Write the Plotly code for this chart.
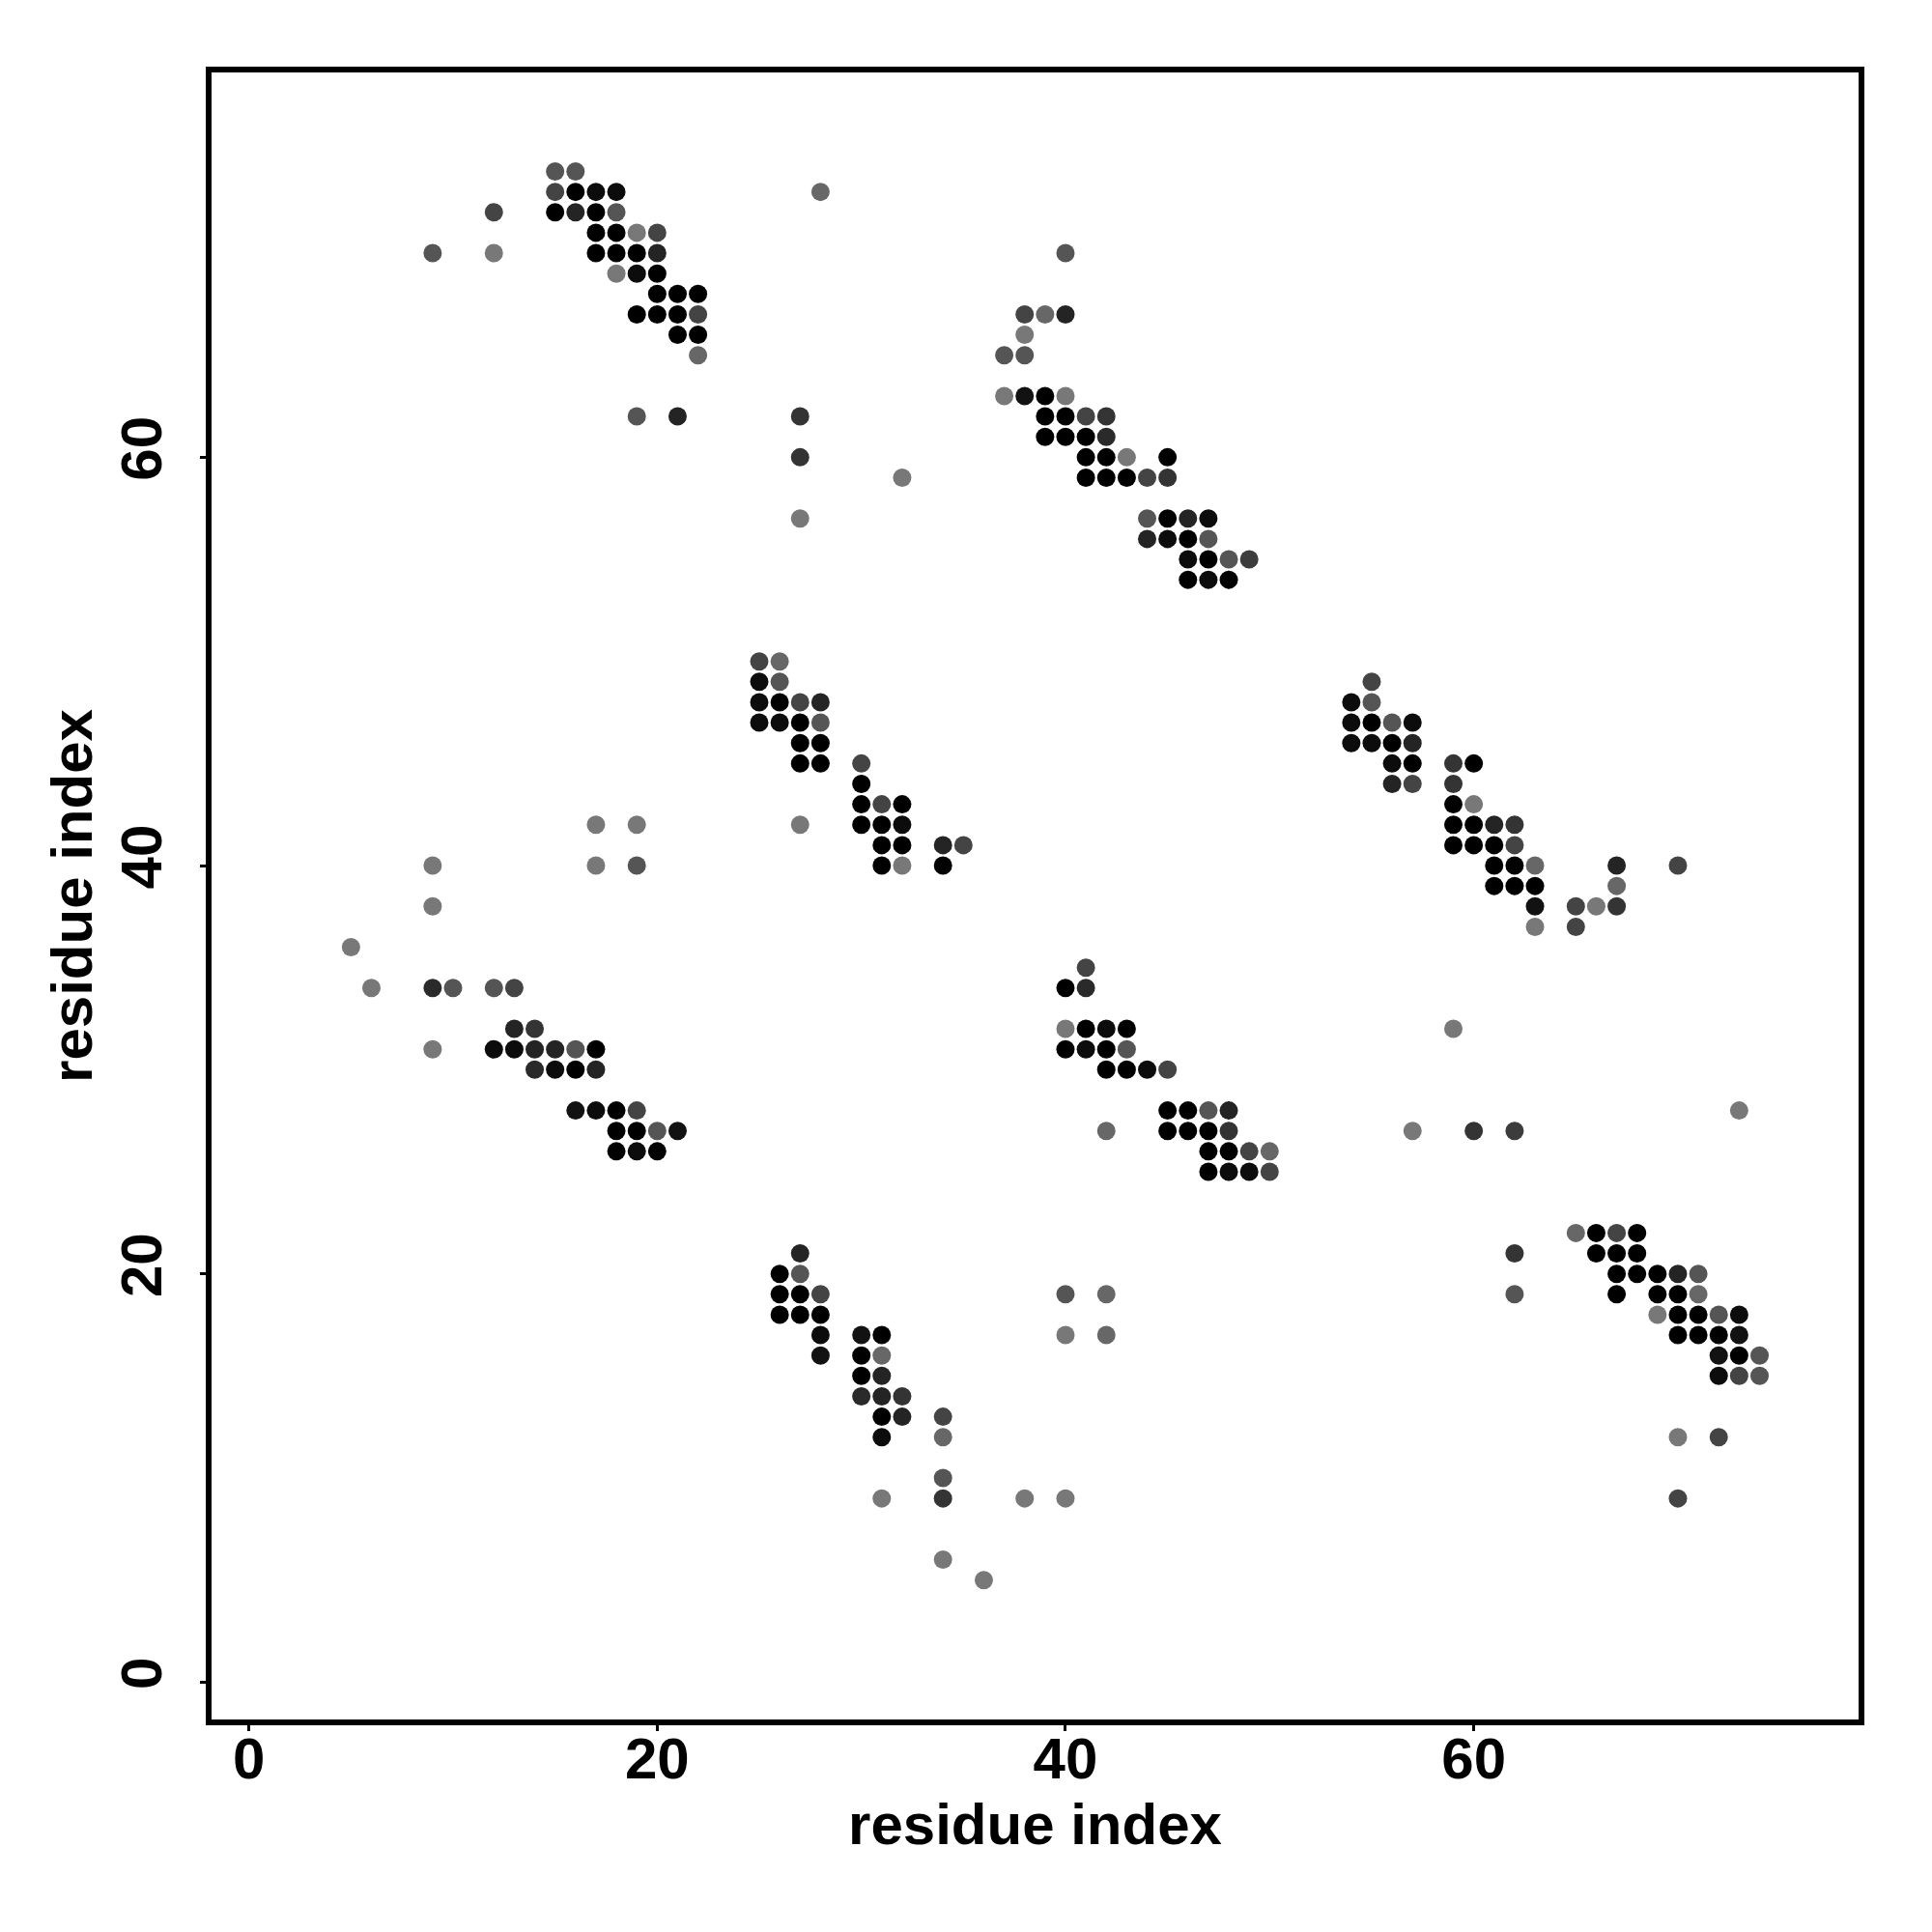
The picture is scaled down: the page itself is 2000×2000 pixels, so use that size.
import plotly.graph_objects as go

# contact map: residue i (x), residue j (y), contact score (0 = light gray, 1 = black)
res_i = [
    9, 12, 12, 15, 16, 15, 16, 17, 18, 15, 16, 17, 18, 17, 18, 19, 20, 17, 18, 19, 20,
    18, 19, 20, 20, 21, 22, 19, 20, 21, 22, 21, 22, 22, 19, 21, 28,
    27, 27, 27, 32,
    40, 38, 39, 40, 38, 37, 38, 37, 38, 39, 40, 39, 40, 41, 42, 39, 40, 41, 42,
    41, 42, 43, 45, 41, 42, 43, 44, 45, 44, 45, 46, 47, 44, 45, 46, 47,
    46, 47, 48, 49, 46, 47, 48,
    25, 26, 25, 26, 25, 26, 27, 28, 25, 26, 27, 28, 27, 28, 27, 28, 30, 30,
    30, 31, 32, 30, 31, 32, 27, 31, 32, 34, 35, 31, 32, 34,
    55, 54, 55, 54, 55, 56, 57, 54, 55, 56, 57, 56, 57, 59, 60, 56, 57, 59,
    59, 60, 59, 60, 61, 62, 59, 60, 61, 62, 61, 62, 63, 67, 70, 61, 62, 63, 67,
    63, 65, 66, 67, 63, 65,
    17, 19, 9, 17, 19, 9, 5, 6, 9, 10, 12, 13, 13, 14,
    9, 12, 13, 14, 15, 16, 17, 14, 15, 16, 17, 16, 17, 18, 19, 18, 19, 20, 21, 18, 19, 20,
    41, 40, 41, 40, 41, 42, 43, 40, 41, 42, 43, 42, 43, 44, 45,
    45, 46, 47, 48, 45, 46, 47, 48, 42, 47, 48, 49, 50, 47, 48, 49, 50,
    27, 26, 27, 26, 27, 28, 26, 27, 28, 28, 30, 31, 28, 30, 31, 30, 31,
    30, 31, 32, 31, 32, 34, 31, 34, 34, 31, 34, 38, 40, 34, 36, 40, 40, 42, 42,
    59, 73, 57, 60, 62, 65, 66, 67, 68, 62, 66, 67, 68, 67, 68, 69, 70, 71,
    62, 67, 69, 70, 71, 69, 70, 71, 72, 73, 70, 71, 72, 73, 72, 73, 74, 72, 73, 74,
    70, 72, 70,
]
res_j = [
    70, 72, 70, 74, 74, 73, 73, 73, 73, 72, 72, 72, 72, 71, 71, 71, 71, 70, 70, 70, 70,
    69, 69, 69, 68, 68, 68, 67, 67, 67, 67, 66, 66, 65, 62, 62, 73,
    62, 60, 57, 59,
    70, 67, 67, 67, 66, 65, 65, 63, 63, 63, 63, 62, 62, 62, 62, 61, 61, 61, 61,
    60, 60, 60, 60, 59, 59, 59, 59, 59, 57, 57, 57, 57, 56, 56, 56, 56,
    55, 55, 55, 55, 54, 54, 54,
    50, 50, 49, 49, 48, 48, 48, 48, 47, 47, 47, 47, 46, 46, 45, 45, 45, 44,
    43, 43, 43, 42, 42, 42, 42, 41, 41, 41, 41, 40, 40, 40,
    49, 48, 48, 47, 47, 47, 47, 46, 46, 46, 46, 45, 45, 45, 45, 44, 44, 44,
    43, 43, 42, 42, 42, 42, 41, 41, 41, 41, 40, 40, 40, 40, 40, 39, 39, 39, 39,
    38, 38, 38, 38, 37, 37,
    42, 42, 40, 40, 40, 38, 36, 34, 34, 34, 34, 34, 32, 32,
    31, 31, 31, 31, 31, 31, 31, 30, 30, 30, 30, 28, 28, 28, 28, 27, 27, 27, 27, 26, 26, 26,
    35, 34, 34, 32, 32, 32, 32, 31, 31, 31, 31, 30, 30, 30, 30,
    28, 28, 28, 28, 27, 27, 27, 27, 27, 26, 26, 26, 26, 25, 25, 25, 25,
    21, 20, 20, 19, 19, 19, 18, 18, 18, 17, 17, 17, 16, 16, 16, 15, 15,
    14, 14, 14, 13, 13, 13, 12, 12, 10, 9, 9, 9, 9, 6, 5, 19, 17, 19, 17,
    32, 28, 27, 27, 27, 22, 22, 22, 22, 21, 21, 21, 21, 20, 20, 20, 20, 20,
    19, 19, 19, 19, 19, 18, 18, 18, 18, 18, 17, 17, 17, 17, 16, 16, 16, 15, 15, 15,
    12, 12, 9,
]
score = [
    .29, .43, 0, .29, .29, .43, 1, .9, .9, 1, .7, 1, .29, 1, 1, 0, .43, 1, 1, 1, .7,
    0, .9, 1, 1, 1, 1, 1, 1, 1, .43, 1, 1, .14, .29, .7, .14,
    .57, .57, 0, 0,
    .29, .43, .14, .7, 0, .29, .29, 0, .85, 1, 0, 1, 1, .43, .57, 1, 1, 1, .65,
    1, 1, 0, 1, 1, 1, 1, .43, .57, .29, 1, .7, .9, .7, .9, 1, .29,
    .9, 1, .29, .5, 1, .9, 1,
    .43, .14, .9, .29, .9, 1, .43, .7, .9, .9, 1, .29, 1, 1, 1, 1, .43, 1,
    1, .43, 1, 1, 1, .9, 0, 1, 1, .7, .43, 1, 0, 1,
    .43, .9, .29, .9, 1, .29, .9, .9, .9, 1, .7, .9, 1, .57, 1, .7, .43, .57,
    1, 0, 1, 1, .7, .57, 1, 1, 1, .43, 1, 1, .14, .7, .43, 1, 1, 1, .14,
    .85, .43, 0, .57, 0, .43,
    0, 0, 0, 0, .29, 0, 0, 0, .65, .29, .29, .43, .7, .57,
    0, .9, .9, .7, .7, .29, 1, .65, .9, 1, .7, .85, .9, 1, .43, 1, 1, .29, .85, 1, .9, 1,
    .43, 1, .65, 0, 1, .9, 1, 1, .9, 1, .29, 1, 1, .9, .43,
    1, 1, .29, .7, 1, 1, 1, .57, .14, 1, 1, .43, .14, 1, .9, .9, .43,
    .7, 1, .29, 1, 1, .43, 1, 1, 1, .9, .85, 1, .85, 1, .14, 1, .7,
    .65, .7, .57, 1, .7, .43, .9, .14, .29, 0, .57, 0, 0, 0, 0, .29, 0, .14, .14,
    0, 0, 0, .57, .5, .14, 1, .43, 1, .57, 1, 1, 1, 1, 1, 1, .7, .29,
    .29, 1, 1, 1, .14, 0, 1, 1, .29, .9, 1, 1, 1, .85, .85, 1, .29, .9, .43, .29,
    0, .43, .43,
]

tick_vals = [0, 20, 40, 60]
tick_text = ["0", "20", "40", "60"]
axis_title = "residue index"

font_family = "Liberation Sans, Arial, Helvetica, sans-serif"

fig = go.Figure(
    go.Scatter(
        x=res_i,
        y=res_j,
        mode="markers",
        marker=dict(
            size=19,
            color=score,
            colorscale=[[0, "#787878"], [1, "#000000"]],
            cmin=0,
            cmax=1,
            line=dict(width=0),
            showscale=False,
        ),
        hoverinfo="x+y",
    )
)

axis_common = dict(
    range=[-1.83, 78.85],
    automargin=False,
    tickmode="array",
    tickvals=tick_vals,
    ticktext=tick_text,
    ticks="outside",
    ticklen=6,
    tickwidth=3,
    tickcolor="black",
    showline=True,
    linecolor="black",
    linewidth=6,
    mirror=True,
    showgrid=False,
    zeroline=False,
    tickfont=dict(family=font_family, size=60, color="black", weight="bold"),
    title=dict(text=axis_title,
               font=dict(family=font_family, size=60, color="black", weight="bold")),
)

fig.update_xaxes(**axis_common)
fig.update_yaxes(**axis_common)
fig.update_xaxes(title_standoff=16, ticklabelstandoff=-23)
fig.update_yaxes(tickangle=-90, title_standoff=0, ticklabelstandoff=16)

fig.update_layout(
    width=1992,
    height=1992,
    margin=dict(l=211, r=76, t=67, b=220),
    plot_bgcolor="white",
    paper_bgcolor="white",
    showlegend=False,
)

fig.write_html("out.html")
